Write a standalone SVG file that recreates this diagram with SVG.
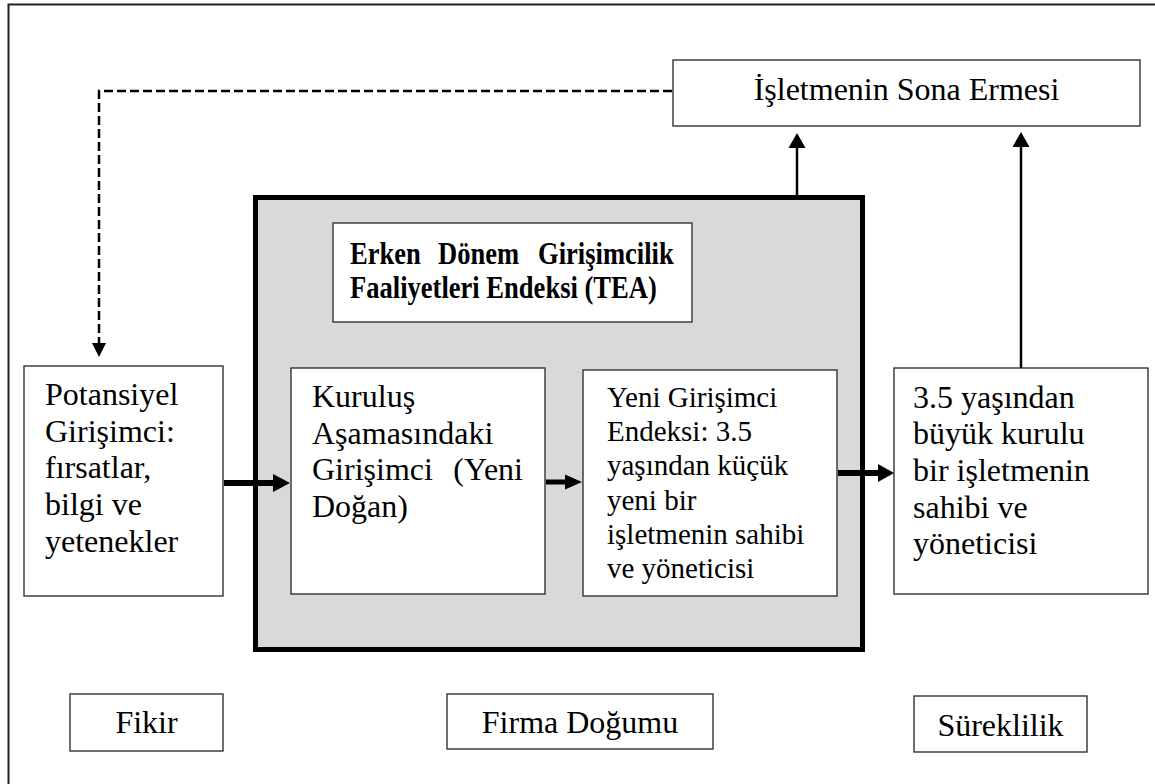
<svg xmlns="http://www.w3.org/2000/svg" width="1155" height="784" viewBox="0 0 1155 784">
  <style>
    .frame { fill: none; stroke: #222; stroke-width: 2; }
    .box { fill: #fff; stroke: #333; stroke-width: 1.4; }
    .big { fill: #d9d9d9; stroke: #000; stroke-width: 5; }
    .t { font-family: "Liberation Serif", "Times New Roman", serif; font-size: 32px; fill: #000; }
    .ts { font-family: "Liberation Serif", "Times New Roman", serif; font-size: 29px; fill: #000; }
    .tb { font-family: "Liberation Serif", "Times New Roman", serif; font-size: 32px; font-weight: bold; fill: #000; }
    .line { fill: none; stroke: #000; stroke-width: 2.5; }
    .thick { fill: none; stroke: #000; stroke-width: 6; }
    .mid { fill: none; stroke: #000; stroke-width: 5; }
    .dash { fill: none; stroke: #000; stroke-width: 2.5; stroke-dasharray: 9 4; }
    .head { fill: #000; stroke: none; }
  </style>

  <!-- page frame (right and bottom edges fall outside the canvas) -->
  <path class="frame" d="M8.5,784 V4.5 H1155"/>

  <!-- shaded block holding the TEA stages -->
  <g id="tea-block">
    <rect class="big" x="255.5" y="197.5" width="607" height="452"/>
  </g>

  <g id="tea-title">
    <rect class="box" x="333" y="223" width="359" height="99"/>
    <!-- condensed bold heading, first line justified -->
    <g transform="matrix(0.83,0,0,1,350,0)">
      <text class="tb" y="264"><tspan x="0">Erken</tspan><tspan x="106">Dönem</tspan><tspan x="390" text-anchor="end">Girişimcilik</tspan></text>
      <text class="tb" x="0" y="298">Faaliyetleri Endeksi (TEA)</text>
    </g>
  </g>

  <g id="sona-erme">
    <rect class="box" x="673" y="60" width="467" height="66"/>
    <text class="t" x="906.5" y="100" text-anchor="middle">İşletmenin Sona Ermesi</text>
  </g>

  <g id="potansiyel">
    <rect class="box" x="24" y="366" width="199" height="230"/>
    <text class="t" x="45" y="405">Potansiyel</text>
    <text class="t" x="45" y="441.7">Girişimci:</text>
    <text class="t" x="45" y="478.4">fırsatlar,</text>
    <text class="t" x="45" y="515.1">bilgi ve</text>
    <text class="t" x="45" y="551.8">yetenekler</text>
  </g>

  <g id="kurulus">
    <rect class="box" x="291" y="368" width="254" height="226"/>
    <text class="t" x="312" y="407">Kuruluş</text>
    <text class="t" x="312" y="443.7">Aşamasındaki</text>
    <text class="t" x="312" y="480.4">Girişimci <tspan x="523" text-anchor="end">(Yeni</tspan></text>
    <text class="t" x="312" y="517.1">Doğan)</text>
  </g>

  <g id="yeni-girisimci">
    <rect class="box" x="583" y="370" width="254" height="226"/>
    <text class="ts" x="607" y="407">Yeni Girişimci</text>
    <text class="ts" x="607" y="441.2">Endeksi: 3.5</text>
    <text class="ts" x="607" y="475.4">yaşından küçük</text>
    <text class="ts" x="607" y="509.6">yeni bir</text>
    <text class="ts" x="607" y="543.8">işletmenin sahibi</text>
    <text class="ts" x="607" y="578">ve yöneticisi</text>
  </g>

  <g id="kurulu-isletme">
    <rect class="box" x="894" y="368" width="254" height="226"/>
    <text class="t" x="913" y="407.5">3.5 yaşından</text>
    <text class="t" x="913" y="444.2">büyük kurulu</text>
    <text class="t" x="913" y="480.9">bir işletmenin</text>
    <text class="t" x="913" y="517.6">sahibi ve</text>
    <text class="t" x="913" y="554.3">yöneticisi</text>
  </g>

  <g id="fikir">
    <rect class="box" x="70" y="694" width="153" height="57"/>
    <text class="t" x="146.5" y="733" text-anchor="middle">Fikir</text>
  </g>

  <g id="firma-dogumu">
    <rect class="box" x="447" y="694" width="266" height="55"/>
    <text class="t" x="580" y="733" text-anchor="middle">Firma Doğumu</text>
  </g>

  <g id="sureklilik">
    <rect class="box" x="914" y="696" width="173" height="56"/>
    <text class="t" x="1000.5" y="736" text-anchor="middle">Süreklilik</text>
  </g>

  <g id="connectors">
    <!-- feedback from closure back to the potential entrepreneur -->
    <path class="dash" d="M672,91 H99 V344"/>
    <path class="head" d="M92,343 L106,343 L99,357 Z"/>

    <!-- closure arrows -->
    <path class="line" d="M797,195 V146"/>
    <path class="head" d="M788.5,148 L805.5,148 L797,133 Z"/>
    <path class="line" d="M1021,368 V145"/>
    <path class="head" d="M1012.5,147 L1029.5,147 L1021,132 Z"/>

    <!-- stage-to-stage arrows -->
    <path class="thick" d="M224,483 H275"/>
    <path class="head" d="M273,474 L290,483 L273,492 Z"/>
    <path class="mid" d="M546,482 H567"/>
    <path class="head" d="M565,474.5 L582,482 L565,489.5 Z"/>
    <path class="thick" d="M838,473 H880"/>
    <path class="head" d="M878,464 L894,473 L878,482 Z"/>
  </g>
</svg>
